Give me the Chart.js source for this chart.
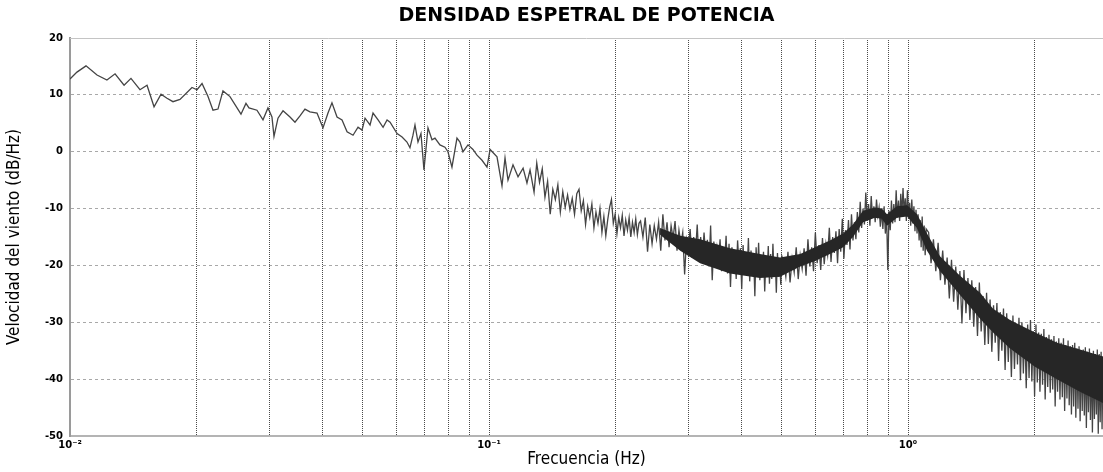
<!DOCTYPE html>
<html>
<head>
<meta charset="utf-8">
<title>Densidad espectral de potencia</title>
<script src="https://cdn.jsdelivr.net/npm/chart.js@4.4.1/dist/chart.umd.min.js"></script>
<style>
  html, body { margin: 0; padding: 0; background: #fff; }
  #psdChart { display: block; }
</style>
</head>
<body>
<canvas id="psdChart" width="1103" height="472"></canvas>
<script>
const chartTitle = 'DENSIDAD ESPETRAL DE POTENCIA';

// low frequency part: frequency (Hz) and level (dB/Hz)
const lowFreq = [
  0.01000, 0.01039, 0.01092, 0.01160, 0.01225, 0.01281, 0.01346, 0.01398, 0.01469, 0.01527,
  0.01587, 0.01649, 0.01704, 0.01761, 0.01830, 0.01955, 0.02010, 0.02066, 0.02135, 0.02194,
  0.02255, 0.02318, 0.02409, 0.02559, 0.02630, 0.02674, 0.02794, 0.02888, 0.02968, 0.03034,
  0.03068, 0.03136, 0.03224, 0.03350, 0.03443, 0.03539, 0.03637, 0.03738, 0.03886, 0.04016,
  0.04128, 0.04219, 0.04338, 0.04459, 0.04584, 0.04737, 0.04869, 0.04977, 0.05060, 0.05201,
  0.05287, 0.05436, 0.05587, 0.05711, 0.05806, 0.06034, 0.06202, 0.06371, 0.06477, 0.06585,
  0.06658, 0.06769, 0.06881, 0.06995, 0.07151, 0.07310, 0.07431, 0.07637, 0.07850, 0.07981,
  0.08158, 0.08386, 0.08525, 0.08667, 0.08910, 0.09157, 0.09361, 0.09623, 0.09890, 0.1006,
  0.1045, 0.1074, 0.1092, 0.1110, 0.1141, 0.1173, 0.1206, 0.1232, 0.1253, 0.1281
];
const lowPsd = [
  12.8, 14.0, 15.1, 13.5, 12.6, 13.7, 11.7, 12.9, 10.9, 11.7,
  7.9, 10.1, 9.4, 8.8, 9.2, 11.3, 10.9, 12.0, 9.7, 7.3,
  7.5, 10.7, 9.7, 6.6, 8.5, 7.7, 7.3, 5.6, 7.7, 6.1,
  2.7, 5.9, 7.2, 6.1, 5.2, 6.3, 7.5, 7.0, 6.8, 4.2,
  6.8, 8.6, 6.1, 5.6, 3.5, 2.9, 4.3, 3.8, 5.9, 4.7,
  6.8, 5.6, 4.3, 5.6, 5.2, 3.2, 2.6, 1.7, 0.7, 2.9,
  4.7, 1.7, 3.2, -3.2, 4.2, 2.1, 2.4, 1.2, 0.8, 0.0,
  -2.7, 2.4, 1.7, 0.0, 1.2, 0.4, -0.6, -1.5, -2.7, 0.4,
  -0.9, -6.0, -1.1, -5.0, -2.3, -4.4, -2.9, -5.5, -3.2, -7.1
];

// dense part: evenly spaced frequency bins, four blocks
const binStart = [0.130, 0.23, 0.505, 1.12];
const binStep = [0.002, 0.003, 0.006, 0.015];

const psdBins0 = [
  -2.0, -5.4, -3.0, -8.0, -5.2, -11.0, -6.6, -8.4, -5.8, -10.6,
  -7.0, -9.8, -7.6, -10.2, -8.2, -11.0, -7.4, -6.6, -10.4, -8.6,
  -12.8, -9.6, -11.6, -9.2, -13.4, -10.6, -12.6, -10.0, -14.2, -11.4,
  -14.8, -12.0, -9.8, -8.4, -12.6, -11.0, -14.4, -11.6, -13.4, -11.2,
  -14.8, -12.0, -13.8, -11.6, -15.0, -12.4, -14.2, -11.8, -14.6, -12.6
];
const psdBins1 = [
  -12.2, -15.0, -11.6, -17.6, -12.8, -16.2, -13.0, -15.4, -12.4, -17.4,
  -11.0, -15.6, -12.4, -16.8, -13.0, -15.2, -12.2, -17.4, -13.8, -16.2,
  -14.2, -21.6, -15.5, -17.3, -13.6, -18.6, -15.0, -17.8, -12.8, -19.2,
  -15.0, -19.0, -14.2, -18.2, -15.5, -20.2, -13.0, -22.6, -15.8, -19.4,
  -16.8, -19.0, -15.4, -21.0, -16.8, -19.6, -14.8, -21.4, -16.2, -23.8,
  -16.8, -20.6, -17.6, -22.4, -15.6, -19.8, -17.0, -24.2, -16.4, -21.0,
  -17.8, -21.6, -15.2, -22.8, -17.4, -20.4, -18.0, -25.4, -16.8, -22.0,
  -16.0, -22.6, -18.4, -21.0, -17.6, -24.6, -18.8, -21.8, -16.6, -23.2,
  -18.0, -22.4, -16.2, -21.6, -18.6, -24.8, -17.8, -22.0, -19.0, -23.4,
  -18.4
];
const psdBins2 = [
  -19.4, -22.0, -17.6, -23.0, -18.8, -21.2, -16.8, -22.4, -18.2, -20.6,
  -17.0, -21.8, -15.4, -20.2, -16.8, -21.0, -14.2, -19.6, -16.4, -20.8,
  -15.2, -19.8, -16.2, -18.2, -13.4, -19.4, -15.0, -17.8, -14.0, -19.6,
  -13.6, -17.6, -11.8, -18.8, -13.8, -16.4, -12.0, -17.2, -11.0, -15.6,
  -12.4, -15.4, -10.6, -14.2, -8.8, -13.4, -10.0, -12.8, -7.2, -12.0,
  -9.2, -13.0, -7.8, -11.6, -9.6, -12.4, -8.4, -11.2, -9.8, -13.2,
  -10.4, -13.6, -9.6, -14.4, -11.2, -20.8, -10.4, -13.8, -8.6, -12.6,
  -9.2, -12.4, -6.8, -11.6, -8.6, -12.2, -7.4, -11.0, -6.4, -10.8,
  -8.2, -12.2, -6.8, -11.4, -9.0, -13.0, -8.4, -12.6, -9.6, -14.0,
  -10.2, -14.4, -11.0, -15.6, -12.0, -16.8, -11.4, -17.4, -13.0, -18.2,
  -13.6
];
const psdBins3 = [
  -14.2, -19.6, -15.4, -21.0, -16.0, -22.6, -17.4, -23.4, -18.6, -25.8,
  -19.0, -26.4, -20.2, -27.8, -21.0, -30.2, -20.8, -28.4, -22.2, -29.6,
  -22.6, -30.8, -23.8, -32.4, -23.0, -31.6, -25.4, -34.0, -24.8, -33.8,
  -26.0, -35.2, -27.0, -33.6, -26.6, -36.8, -28.2, -35.0, -27.6, -38.4,
  -28.4, -37.0, -29.6, -39.6, -28.8, -38.2, -30.4, -37.4, -29.2, -40.2,
  -30.0, -39.0, -31.2, -41.6, -30.4, -39.8, -29.6, -40.4, -31.6, -43.0,
  -30.4, -40.6, -31.8, -42.2, -32.0, -41.0, -31.2, -43.6, -32.6, -41.4,
  -32.2, -42.4, -33.0, -41.8, -32.4, -44.8, -33.4, -42.2, -32.8, -43.6,
  -33.6, -43.2, -32.8, -45.6, -34.0, -43.4, -33.2, -44.6, -34.2, -46.2,
  -34.0, -44.8, -33.6, -46.8, -34.6, -45.2, -34.2, -47.4, -35.0, -45.6,
  -34.8, -46.4, -34.4, -48.6, -35.2, -45.8, -34.6, -47.2, -35.4, -49.4,
  -35.0, -47.0, -35.6, -46.2, -34.8, -49.6, -35.6, -47.6, -35.2, -48.8,
  -36.0
];

// solid core of the noisy band (where the trace is drawn black)
const bandFreq = [0.256, 0.286, 0.319, 0.376, 0.443, 0.495, 0.553, 0.600, 0.651,
  0.700, 0.739, 0.781, 0.834, 0.866, 0.891, 0.941, 0.995, 1.051, 1.110,
  1.192, 1.331, 1.486, 1.596, 1.752, 2.009, 2.268, 2.573, 2.921];
const bandUpper = [-13.4, -14.8, -15.4, -17.0, -18.0, -18.6, -18.0, -16.8, -15.6,
  -14.4, -12.8, -10.4, -9.8, -10.0, -11.0, -9.6, -9.4, -11.0, -14.4,
  -18.4, -21.8, -24.8, -27.6, -29.6, -31.8, -33.6, -34.8, -36.0];
const bandLower = [-14.6, -17.4, -19.6, -21.4, -22.2, -22.0, -20.2, -19.2, -18.0,
  -16.8, -15.0, -12.4, -11.6, -11.8, -13.0, -11.6, -11.4, -13.4, -17.4,
  -21.0, -25.2, -29.4, -31.8, -34.6, -37.8, -40.0, -42.2, -44.2];

// axis ticks
const gridFreqs = [0.01, 0.02, 0.03, 0.04, 0.05, 0.06, 0.07, 0.08, 0.09,
  0.1, 0.2, 0.3, 0.4, 0.5, 0.6, 0.7, 0.8, 0.9, 1, 2];
const decadeLabels = { 0.01: '10⁻²', 0.1: '10⁻¹', 1: '10⁰' };

// build point lists
const psdPoints = lowFreq.map((f, i) => ({ x: f, y: lowPsd[i] }));
[psdBins0, psdBins1, psdBins2, psdBins3].forEach((vals, s) => {
  vals.forEach((v, i) => {
    psdPoints.push({ x: +(binStart[s] + i * binStep[s]).toFixed(4), y: v });
  });
});
const upperPoints = bandFreq.map((f, i) => ({ x: f, y: bandUpper[i] }));
const lowerPoints = bandFreq.map((f, i) => ({ x: f, y: bandLower[i] }));

// frame line on top of the plot area and the title centred over the plot area
const frameAndTitle = {
  id: 'frameAndTitle',
  beforeDatasetsDraw(chart) {
    const { ctx, chartArea } = chart;
    ctx.save();
    ctx.strokeStyle = '#c4c4c4';
    ctx.lineWidth = 1;
    ctx.beginPath();
    ctx.moveTo(chartArea.left, chartArea.top + 0.5);
    ctx.lineTo(chartArea.right, chartArea.top + 0.5);
    ctx.stroke();
    ctx.restore();
  },
  afterDraw(chart) {
    const { ctx, chartArea } = chart;
    ctx.save();
    ctx.fillStyle = '#000';
    ctx.font = 'bold 19px "DejaVu Sans"';
    ctx.textAlign = 'center';
    ctx.textBaseline = 'middle';
    ctx.fillText(chartTitle, (chartArea.left + chartArea.right) / 2, 16);
    ctx.restore();
  }
};

const tickFont = { family: 'DejaVu Sans', size: 10, weight: 'bold' };
const labelFont = { family: "'Liberation Sans Narrow', 'DejaVu Sans Condensed', sans-serif", size: 17 };

const ctx = document.getElementById('psdChart').getContext('2d');
const psdChart = new Chart(ctx, {
  type: 'line',
  data: {
    datasets: [
      {
        label: 'core',
        data: upperPoints,
        borderWidth: 0,
        pointRadius: 0,
        backgroundColor: '#262626',
        fill: '+1',
        order: 0
      },
      {
        label: 'core low',
        data: lowerPoints,
        borderWidth: 0,
        pointRadius: 0,
        fill: false,
        order: 0
      },
      {
        label: 'PSD',
        data: psdPoints,
        borderColor: '#444444',
        borderWidth: 1.3,
        pointRadius: 0,
        tension: 0,
        fill: false,
        order: 1
      }
    ]
  },
  options: {
    responsive: false,
    animation: false,
    layout: { padding: { top: 38, left: 0, right: 0, bottom: 0 } },
    plugins: {
      legend: { display: false },
      tooltip: { enabled: false },
      title: { display: false }
    },
    scales: {
      x: {
        type: 'logarithmic',
        min: 0.01,
        max: 2.92,
        afterBuildTicks: axis => {
          axis.ticks = gridFreqs.map(v => ({ value: v }));
        },
        afterFit: axis => { axis.height = 36; },
        ticks: {
          autoSkip: false,
          maxRotation: 0,
          padding: 3,
          color: '#000',
          font: tickFont,
          callback: v => decadeLabels[v] || ''
        },
        grid: {
          color: c => (c.tick && c.tick.value === 0.01) ? 'rgba(0,0,0,0)' : '#4a4a4a',
          lineWidth: 1,
          drawTicks: false
        },
        border: { display: true, color: '#b4b4b4', width: 2, dash: [1, 1] },
        title: {
          display: true,
          text: 'Frecuencia (Hz)',
          color: '#000',
          font: labelFont,
          padding: { top: 0, bottom: 2 }
        }
      },
      y: {
        min: -50,
        max: 20,
        afterFit: axis => { axis.width = 70; },
        ticks: {
          stepSize: 10,
          padding: 7,
          color: '#000',
          font: tickFont
        },
        grid: {
          color: c => (c.tick && c.tick.value === 20) ? 'rgba(0,0,0,0)' : '#a8a8a8',
          lineWidth: 1,
          drawTicks: false
        },
        border: { display: true, color: '#9a9a9a', width: 2, dash: [3, 3] },
        title: {
          display: true,
          text: 'Velocidad del viento (dB/Hz)',
          color: '#000',
          font: labelFont,
          padding: { top: 4, bottom: 0 }
        }
      }
    }
  },
  plugins: [frameAndTitle]
});
</script>
</body>
</html>
